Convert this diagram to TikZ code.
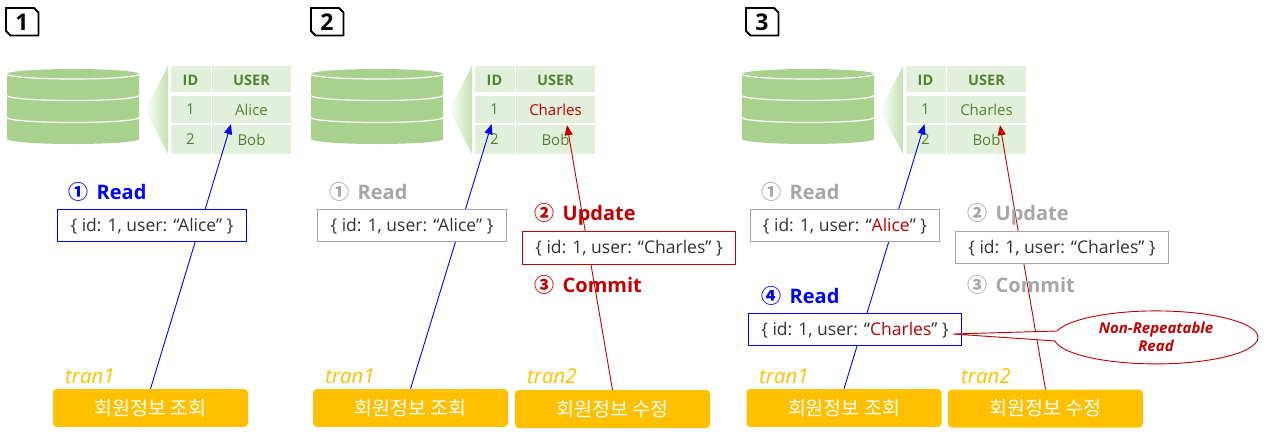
\documentclass[tikz,border=0pt]{standalone}
\usepackage{fontspec}
\setmainfont{Open Sans}
\newfontfamily\krfont{Noto Sans CJK KR}
\usetikzlibrary{arrows.meta,calc,shapes.geometric}
\definecolor{dbgreen}{HTML}{A9D18E}
\definecolor{cellgreen}{HTML}{E2EFDA}
\definecolor{txtgreen}{HTML}{548235}
\definecolor{wedgegreen}{HTML}{C5E0B4}
\definecolor{dkred}{HTML}{C00000}
\definecolor{greyc}{HTML}{A6A6A6}
\definecolor{amber}{HTML}{FFC000}
\definecolor{blueb}{HTML}{0000FF}
\tikzset{
  x=1pt,y=-1pt,
  cell/.style={fill=cellgreen,inner sep=0pt,text=txtgreen,font=\fontsize{15}{17}\selectfont},
  headcell/.style={cell,text height=13pt,text depth=0pt,font=\bfseries\fontsize{14.5}{17}\selectfont},
  btn/.style={fill=amber,rounded corners=4pt,inner sep=0pt,minimum width=195pt,minimum height=38pt,text=white,font=\krfont\fontsize{19.5}{22}\selectfont},
  tranlabel/.style={anchor=west,inner sep=0pt,text=amber,font=\itshape\fontsize{20.5}{24}\selectfont},
  recbox/.style={fill=white,inner sep=0pt,line width=0.9pt,text=black!80,text height=14pt,text depth=2pt,font=\fontsize{17.5}{20}\selectfont},
  stephead/.style={anchor=west,inner sep=0pt,font=\bfseries\fontsize{20}{24}\selectfont},
  tagtext/.style={inner sep=0pt,font=\bfseries\fontsize{23}{26}\selectfont},
  arrowline/.style={line width=0.9pt,-{Triangle[length=10pt,width=8pt]}},
}
\newcommand{\circnum}[1]{{\krfont\fontsize{20}{24}\selectfont #1}}
\newcommand{\dbpanel}[6]{% offset, prefix, tag text, row1 colour, row1 text, tag shift
  \begin{scope}[xshift=#1pt]
    \begin{scope}[xshift=#6pt]
      \draw[black,line width=1.8pt,fill=white] (10,8) -- (34,8) -- (38.5,12.5) -- (38.5,35.5) -- (10.5,35.5) -- (6,31) -- (6,8) -- cycle;
      \node[tagtext] (#2tag) at (22,22) {#3};
    \end{scope}
    \fill[dbgreen] (7,74) arc[start angle=180,end angle=0,x radius=66pt,y radius=5pt] -- (139,139) arc[start angle=0,end angle=-180,x radius=66pt,y radius=5pt] -- cycle;
    \foreach \yy in {74,95.5,117.5}
      \draw[white,line width=1.2pt] (7,\yy) arc[start angle=180,end angle=360,x radius=66pt,y radius=5pt];
    \shade[left color=white,right color=wedgegreen] (145,110) -- (168,66) -- (168,154) -- cycle;
    \node[headcell,minimum width=40pt,minimum height=26pt] (#2idh) at (190.5,79) {ID};
    \node[headcell,minimum width=79pt,minimum height=26pt] (#2userh) at (251.5,79) {USER};
    \node[cell,minimum width=40pt,minimum height=27pt] (#2ida) at (190.5,109.5) {1};
    \node[cell,minimum width=79pt,minimum height=27pt,text=#4] (#2usera) at (251.5,109.5) {#5};
    \node[cell,minimum width=40pt,minimum height=29pt] (#2idb) at (190.5,139.5) {2};
    \node[cell,minimum width=79pt,minimum height=29pt] (#2userb) at (251.5,139.5) {Bob};
  \end{scope}
}
\begin{document}
\begin{tikzpicture}
\useasboundingbox (0,0) rectangle (1269,437);
\dbpanel{0}{a}{1}{txtgreen}{Alice}{0}
\dbpanel{304}{b}{2}{dkred}{Charles}{1}
\dbpanel{735}{c}{3}{txtgreen}{Charles}{5}

% buttons
\node[btn] (abtn) at (150.5,408) {회원정보 조회};
\node[btn] (bbtn) at (410.5,408) {회원정보 조회};
\node[btn] (bbtnb) at (612.5,409) {회원정보 수정};
\node[btn] (cbtn) at (844,408) {회원정보 조회};
\node[btn] (cbtnb) at (1045.5,408.5) {회원정보 수정};
\node[tranlabel] (atr) at (65,376) {tran1};
\node[tranlabel] (btr) at (325,376) {tran1};
\node[tranlabel] (btrb) at (527,376) {tran2};
\node[tranlabel] (ctr) at (759,376) {tran1};
\node[tranlabel] (ctrb) at (961,376) {tran2};

% connectors
\draw[arrowline,blueb] (abtn.north) -- ($(ausera.south)+(-20.5,1)$);
\draw[arrowline,blueb] (bbtn.north) -- ($(bida.south)+(-3,1)$);
\draw[arrowline,dkred] (bbtnb.north) -- ($(busera.south)+(11.5,2)$);
\draw[arrowline,blueb] (cbtn.north) -- ($(cida.south)+(-1,1)$);
\draw[arrowline,dkred] (cbtnb.north) -- ($(cusera.south)+(13.5,2)$);

% step headings
\node[stephead,text=blueb] (ah) at (68,192) {\circnum{①}\hspace{8.5pt}Read};
\node[stephead,text=greyc] (bh) at (329,192) {\circnum{①}\hspace{8.5pt}Read};
\node[stephead,text=dkred] (bhb) at (534,214) {\circnum{②}\hspace{8.5pt}Update};
\node[stephead,text=dkred] (bhc) at (534,285) {\circnum{③}\hspace{8.5pt}Commit};
\node[stephead,text=greyc] (ch) at (761,192) {\circnum{①}\hspace{8.5pt}Read};
\node[stephead,text=greyc] (chb) at (967,214) {\circnum{②}\hspace{8.5pt}Update};
\node[stephead,text=greyc] (chc) at (967,285) {\circnum{③}\hspace{8.5pt}Commit};
\node[stephead,text=blueb] (chd) at (761,296) {\circnum{④}\hspace{8.5pt}Read};

% record boxes
\node[recbox,draw=blueb,minimum width=189pt,minimum height=32pt] (abox) at (152,225.5) {\{ id: 1, user: “Alice” \}};
\node[recbox,draw=greyc,minimum width=189pt,minimum height=32pt] (bbox) at (412,225.5) {\{ id: 1, user: “Alice” \}};
\node[recbox,draw=dkred,minimum width=213pt,minimum height=33pt] (bboxb) at (629,247.5) {\{ id: 1, user: “Charles” \}};
\node[recbox,draw=greyc,minimum width=189pt,minimum height=32pt] (cbox) at (845,225) {\{ id: 1, user: “\textcolor{dkred}{Alice}” \}};
\node[recbox,draw=greyc,minimum width=213pt,minimum height=32pt] (cboxb) at (1062,247) {\{ id: 1, user: “Charles” \}};
\node[recbox,draw=blueb,minimum width=213pt,minimum height=32pt] (cboxc) at (855,329) {\{ id: 1, user: “\textcolor{dkred}{Charles}” \}};

% callout
\coordinate (tailtip) at ($(cboxc.east)+(-9,5)$);
\draw[dkred,line width=0.9pt,fill=white] (tailtip) -- (1057,331) arc[start angle=166,end angle=-172.4,x radius=102pt,y radius=26.5pt] -- cycle;
\node[inner sep=0pt,align=center,text=dkred,font=\bfseries\itshape\fontsize{15}{18}\selectfont] (nrr) at (1156,337) {Non-Repeatable\\Read};
\end{tikzpicture}
\end{document}
